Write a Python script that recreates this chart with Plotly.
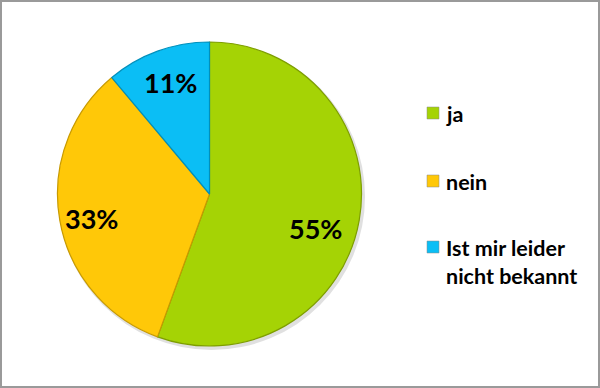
import plotly.graph_objects as go

labels = ["ja", "nein", "Ist mir leider<br>nicht bekannt"]
values = [55, 33, 11]
pct_text = ["55%", "33%", "11%"]
colors = ["#A5D305", "#FFC808", "#0BBEF5"]
edge_colors = ["#7E9E00", "#C89A00", "#0090BC"]

W, H = 600, 388
def px(x): return x / W
def py(y): return 1 - y / H

fig = go.Figure()
# soft shadow
fig.add_trace(go.Pie(
    values=[1], marker=dict(colors=["rgba(0,0,0,0.12)"], line=dict(width=0)),
    textinfo="none", hoverinfo="skip", showlegend=False, sort=False,
    domain=dict(x=[px(58), px(365)], y=[py(350), py(43)]),
))
fig.add_trace(go.Pie(
    labels=labels, values=values, text=pct_text,
    textinfo="none", sort=False, direction="clockwise", rotation=0,
    marker=dict(colors=colors, line=dict(color=edge_colors, width=1.2)),
    domain=dict(x=[px(57), px(362)], y=[py(346), py(42)]),
    showlegend=False, hoverinfo="label+text",
))

label_pos = [(316, 228), (91, 218), (170, 82)]
for t, (xx, yy) in zip(pct_text, label_pos):
    fig.add_annotation(xref="paper", yref="paper", x=px(xx), y=py(yy),
                       xanchor="center", yanchor="middle", text=t, showarrow=False,
                       font=dict(family="Lato", size=27, color="#000000", weight="bold"))

legend_y = [113, 181, 247]
for lab, col, yy in zip(labels, colors, legend_y):
    fig.add_shape(type="rect", xref="paper", yref="paper",
                  x0=px(427), x1=px(439), y0=py(yy + 6), y1=py(yy - 6),
                  fillcolor=col, line=dict(color="#888888", width=0.5))
    fig.add_annotation(xref="paper", yref="paper", x=px(444), y=py(yy - 14),
                       xanchor="left", yanchor="top", align="left",
                       text=lab, showarrow=False,
                       font=dict(family="Lato", size=21.5, color="#000000", weight="bold"))

fig.add_shape(type="rect", xref="paper", yref="paper",
              x0=px(1), x1=px(599), y0=py(387), y1=py(1),
              line=dict(color="#9A9A9A", width=2))

fig.update_layout(width=W, height=H, margin=dict(l=0, r=0, t=0, b=0),
                  paper_bgcolor="white", plot_bgcolor="white")
fig.write_html("out.html", config={"displayModeBar": False},
               post_script="document.body.style.margin='0';document.body.style.overflow='hidden';")
